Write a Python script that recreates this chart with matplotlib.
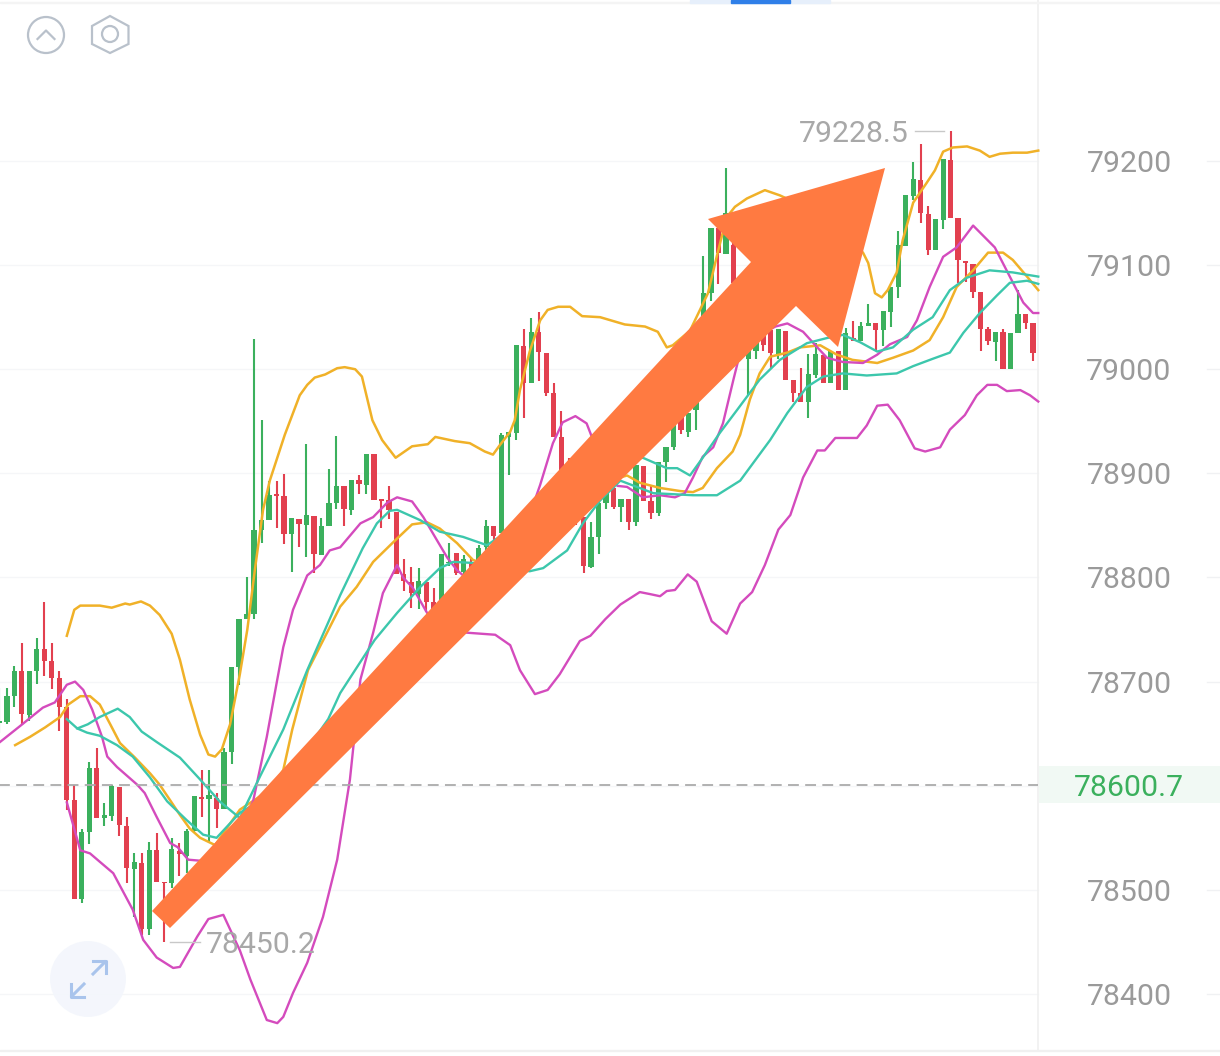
import matplotlib
matplotlib.use('Agg')
import matplotlib.pyplot as plt
from matplotlib.patches import Polygon, Circle, Rectangle

# candles, oldest first
opens = [78660, 78661, 78686, 78710, 78668, 78710, 78731, 78720, 78703, 78676,
         78586, 78491, 78556, 78617, 78569, 78571, 78599, 78561, 78520, 78526,
         78462, 78538, 78508, 78507, 78537, 78533, 78557, 78589, 78587, 78588,
         78578, 78632, 78714, 78760, 78765, 78846, 78855, 78880, 78878, 78842,
         78856, 78850, 78859, 78822, 78849, 78872, 78888, 78865, 78894, 78889,
         78919, 78875, 78874, 78863, 78803, 78796, 78784, 78796, 78776, 78776,
         78814, 78824, 78805, 78815, 78816, 78829, 78849, 78843, 78935, 78939,
         79022, 78987, 79036, 79016, 78977, 78935, 78903, 78874, 78858, 78810,
         78839, 78872, 78886, 78868, 78875, 78853, 78907, 78873, 78862, 78911,
         78925, 78958, 78940, 78961, 78990, 79073, 79136, 79111, 79119, 79083,
         79010, 79018, 79047, 79038, 79015, 79037, 78990, 78977, 78969, 78994,
         79014, 78987, 79018, 78980, 79030, 79027, 79042, 79044, 79038, 79055,
         79079, 79118, 79166, 79182, 79149, 79115, 79143, 79201, 79145, 79104,
         79101, 79074, 79039, 79026, 79036, 79000, 79035, 79053, 79044]
closes = [78662, 78686, 78710, 78669, 78710, 78731, 78720, 78703, 78676, 78586,
          78491, 78556, 78617, 78569, 78572, 78600, 78562, 78521, 78527, 78462,
          78538, 78508, 78507, 78539, 78534, 78557, 78590, 78587, 78591, 78578,
          78632, 78714, 78760, 78765, 78846, 78855, 78879, 78878, 78842, 78857,
          78851, 78860, 78823, 78849, 78872, 78888, 78866, 78894, 78890, 78919,
          78874, 78873, 78865, 78803, 78797, 78785, 78797, 78776, 78764, 78823,
          78815, 78804, 78818, 78803, 78828, 78849, 78840, 78937, 78940, 79023,
          78987, 79036, 79017, 78977, 78935, 78903, 78874, 78858, 78811, 78839,
          78872, 78884, 78868, 78875, 78853, 78908, 78873, 78862, 78911, 78925,
          78947, 78942, 78958, 78990, 79073, 79136, 79112, 79150, 79083, 79047,
          79047, 79047, 79023, 79016, 79039, 78990, 78977, 78969, 78995, 79015,
          78987, 79018, 78980, 79035, 79027, 79042, 79044, 79038, 79056, 79079,
          79119, 79167, 79183, 79150, 79115, 79144, 79202, 79145, 79105, 79102,
          79074, 79039, 79027, 79036, 79000, 79035, 79053, 79044, 79016]
highs = [78694, 78694, 78715, 78737, 78710, 78742, 78776, 78737, 78710, 78683,
         78601, 78558, 78623, 78636, 78583, 78601, 78599, 78570, 78535, 78535,
         78546, 78555, 78508, 78550, 78545, 78558, 78590, 78615, 78615, 78593,
         78636, 78714, 78760, 78800, 79029, 78951, 78893, 78893, 78899, 78857,
         78856, 78928, 78859, 78857, 78904, 78936, 78888, 78894, 78898, 78919,
         78919, 78875, 78888, 78863, 78818, 78810, 78809, 78796, 78790, 78823,
         78833, 78824, 78822, 78820, 78831, 78855, 78849, 78939, 78940, 79023,
         79039, 79049, 79055, 79016, 78987, 78960, 78915, 78880, 78858, 78853,
         78874, 78890, 78890, 78875, 78875, 78908, 78907, 78888, 78911, 78925,
         78947, 78958, 78958, 78995, 79109, 79136, 79136, 79193, 79124, 79090,
         79047, 79055, 79055, 79038, 79039, 79037, 78990, 79001, 79015, 79025,
         79014, 79018, 79018, 79040, 79046, 79045, 79063, 79044, 79056, 79079,
         79133, 79167, 79199, 79216, 79157, 79144, 79202, 79228.5, 79145, 79104,
         79101, 79074, 79041, 79036, 79039, 79035, 79076, 79053, 79044]
lows = [78651, 78659, 78676, 78658, 78662, 78698, 78705, 78693, 78653, 78577,
        78491, 78487, 78544, 78569, 78561, 78566, 78552, 78507, 78474, 78457,
        78457, 78508, 78450.2, 78502, 78513, 78516, 78556, 78570, 78546, 78559,
        78578, 78621, 78697, 78760, 78760, 78833, 78855, 78848, 78832, 78805,
        78829, 78820, 78804, 78822, 78849, 78866, 78849, 78860, 78880, 78880,
        78874, 78848, 78856, 78803, 78787, 78771, 78770, 78767, 78759, 78774,
        78811, 78802, 78802, 78795, 78812, 78826, 78836, 78843, 78898, 78932,
        78953, 78987, 78989, 78974, 78935, 78898, 78865, 78850, 78804, 78809,
        78823, 78866, 78866, 78853, 78846, 78849, 78873, 78856, 78859, 78892,
        78922, 78938, 78935, 78942, 78985, 79066, 79082, 79111, 79076, 79040,
        78975, 79010, 79018, 79001, 79010, 78990, 78969, 78969, 78953, 78992,
        78987, 78987, 78980, 78980, 79027, 79027, 79042, 79018, 79022, 79041,
        79068, 79118, 79163, 79140, 79110, 79115, 79135, 79145, 79083, 79084,
        79068, 79018, 79023, 79008, 79000, 79000, 79035, 79039, 79008]

# upper orange band
band_up_x = [9.0, 10.0, 10.8, 13.4, 15.0, 16.8, 17.4, 18.9, 20.1, 21.4, 23.0, 24.1, 25.4, 26.8, 27.9, 28.8,
             29.7, 30.8, 32.1, 33.1, 34.1, 35.2, 36.1, 37.1, 38.1, 39.1, 40.1, 41.1, 42.1, 43.5, 45.1, 46.1,
             47.5, 48.4, 49.8, 51.1, 52.9, 55.1, 57.2, 58.2, 60.8, 62.8, 64.8, 65.9, 66.8, 68.2, 68.8, 69.5,
             70.8, 72.2, 73.2, 74.6, 76.2, 77.8, 80.2, 83.5, 86.2, 87.9, 89.1, 89.9, 92.2, 94.6, 95.9, 97.1,
             98.2, 99.8, 102.2, 104.2, 106.9, 110.9, 113.6, 115.3, 116.0, 116.9, 117.8, 118.6, 119.8, 120.6,
             122.0, 123.8, 124.9, 126.0, 127.3, 129.2, 130.9, 132.2, 133.6, 135.3, 137.2, 138.7]
band_up = [78744, 78769, 78773, 78773, 78771, 78775, 78774, 78777, 78773, 78764, 78746, 78721, 78683, 78649, 78630, 78628,
           78635, 78659, 78707, 78750, 78807, 78865, 78893, 78915, 78937, 78956, 78975, 78985, 78992, 78995, 79001, 79002,
           79000, 78993, 78951, 78932, 78915, 78926, 78928, 78935, 78931, 78929, 78921, 78918, 78927, 78940, 78951, 78980,
           79017, 79047, 79057, 79060, 79060, 79051, 79050, 79043, 79041, 79036, 79021, 79023, 79037, 79073, 79112, 79146,
           79156, 79164, 79172, 79167, 79158, 79138, 79124, 79112, 79102, 79073, 79069, 79076, 79093, 79124,
           79160, 79179, 79191, 79209, 79213, 79214, 79210, 79204, 79207, 79208, 79208, 79210]

# lower orange average
ma_orange_x = [2.1, 4.1, 6.1, 8.1, 9.2, 10.8, 12.1, 13.4, 14.8, 16.1, 18.1, 20.1, 21.4, 22.8, 24.1, 25.4, 26.8, 28.8,
               32.1, 36.1, 37.9, 39.1, 41.2, 45.5, 47.7, 49.9, 52.6, 55.1, 57.1, 58.8, 61.1, 63.2, 66.8, 72.2, 78.9,
               81.5, 83.8, 85.5, 88.2, 90.9, 92.6, 93.9, 95.8, 97.9, 98.9, 100.2, 101.5, 102.9, 105.2, 106.9, 109.6,
               111.8, 113.9, 117.2, 119.3, 122.0, 124.2, 126.0, 127.8, 130.0, 132.0, 134.0, 135.3, 137.2, 138.7]
ma_orange = [78639, 78647, 78656, 78666, 78678, 78686, 78686, 78678, 78659, 78641, 78627, 78612, 78601, 78586, 78572, 78559, 78550, 78543,
             78577, 78596, 78615, 78654, 78711, 78772, 78791, 78815, 78834, 78851, 78853, 78847, 78833, 78817, 78807, 78826, 78874,
             78893, 78898, 78891, 78886, 78883, 78882, 78886, 78905, 78921, 78937, 78971, 78996, 79012, 79016, 79021, 79023,
             79014, 79009, 79006, 79011, 79018, 79028, 79050, 79079, 79095, 79112, 79112, 79105, 79089, 79076]

# magenta, the one that stays near price
ma_pink_x = [0.08, 2.7, 5.8, 7.4, 9.0, 10.1, 11.2, 12.4, 13.7, 14.4, 15.7, 18.4, 19.4, 21.0, 22.8, 23.8, 25.2, 26.8,
             30.8, 32.8, 33.9, 35.7, 37.1, 37.9, 39.2, 41.1, 42.8, 44.1, 45.5, 48.2, 49.9, 51.8, 53.1, 55.1, 56.6,
             58.4, 59.8, 61.1, 64.2, 68.2, 72.2, 73.9, 75.2, 76.9, 78.4, 79.1, 81.5, 82.5, 83.8, 85.9, 88.2, 90.2,
             91.5, 92.6, 93.9, 95.3, 96.6, 98.0, 98.9, 101.5, 103.6, 105.2, 107.3, 109.2, 110.5, 112.6, 115.3, 117.2,
             118.9, 121.2, 122.5, 124.2, 126.0, 127.8, 130.0, 132.9, 134.9, 136.7, 138.0, 138.7]
ma_pink = [78642, 78657, 78675, 78680, 78697, 78700, 78692, 78673, 78647, 78628, 78618, 78601, 78593, 78570, 78545, 78541, 78529, 78528,
           78538, 78567, 78586, 78647, 78702, 78733, 78769, 78802, 78812, 78826, 78829, 78852, 78858, 78872, 78877, 78873, 78858,
           78836, 78819, 78807, 78788, 78807, 78889, 78929, 78949, 78955, 78948, 78935, 78903, 78888, 78887, 78877, 78879, 78877,
           78881, 78896, 78916, 78925, 78948, 78990, 79016, 79033, 79041, 79044, 79036, 79021, 79011, 79007, 79006, 79014,
           79024, 79031, 79047, 79079, 79108, 79117, 79138, 79117, 79089, 79064, 79054, 79054]

# lower magenta band
band_low_x = [9.0, 10.8, 12.1, 13.4, 15.2, 17.8, 19.2, 21.0, 23.2, 24.1, 26.4, 27.9, 29.9, 32.1, 33.5, 35.7, 37.1, 37.9,
              39.2, 41.1, 43.2, 45.1, 46.8, 48.2, 49.9, 51.2, 53.1, 53.9, 55.2, 57.1, 60.2, 62.4, 66.2, 68.2, 69.5, 71.5,
              73.2, 74.8, 77.5, 78.9, 80.9, 82.9, 85.5, 86.9, 88.2, 89.1, 90.2, 91.9, 93.1, 95.1, 97.1, 98.9, 100.5,
              102.2, 104.0, 105.6, 107.3, 109.2, 110.2, 111.6, 114.5, 115.8, 117.2, 118.6, 120.2, 122.2, 123.6, 125.6,
              126.9, 128.9, 130.5, 131.9, 133.2, 134.5, 136.3, 137.6, 138.7]
band_low = [78584, 78538, 78535, 78527, 78516, 78481, 78452, 78435, 78425, 78426, 78455, 78472, 78476, 78442, 78414, 78375, 78372, 78378,
            78401, 78430, 78474, 78529, 78606, 78702, 78747, 78785, 78812, 78800, 78790, 78766, 78750, 78747, 78745, 78735, 78711, 78688,
            78692, 78707, 78739, 78744, 78760, 78774, 78786, 78784, 78782, 78787, 78788, 78803, 78796, 78758, 78746, 78775, 78786,
            78812, 78846, 78860, 78896, 78922, 78922, 78934, 78934, 78946, 78965, 78966, 78951, 78924, 78921, 78925,
            78942, 78956, 78975, 78985, 78985, 78979, 78980, 78975, 78969]

# teal averages
teal_fast_x = [9.0, 10.4, 11.8, 13.4, 15.8, 17.4, 19.0, 21.0, 24.1, 26.8, 29.4, 32.1, 34.8, 37.9, 41.1, 45.5, 48.5, 50.4,
               52.1, 53.1, 56.2, 58.8, 61.9, 65.1, 68.2, 74.8, 80.2, 85.9, 89.1, 90.5, 92.2, 93.9, 96.2, 98.5, 101.5,
               104.2, 107.8, 110.5, 112.6, 114.9, 117.2, 119.3, 122.0, 124.6, 126.9, 129.2, 132.2, 135.3, 138.7]
teal_fast = [78664, 78655, 78659, 78666, 78674, 78666, 78652, 78642, 78627, 78606, 78585, 78569, 78609, 78654, 78711, 78783, 78828, 78852,
             78864, 78865, 78855, 78844, 78839, 78831, 78846, 78884, 78908, 78915, 78905, 78905, 78898, 78915, 78939, 78961, 78990,
             79009, 79025, 79030, 79033, 79026, 79017, 79021, 79038, 79050, 79076, 79088, 79095, 79093, 79089]
teal_slow_x = [10.4, 11.7, 13.4, 15.7, 17.8, 20.1, 22.4, 25.0, 27.2, 29.0, 32.1, 36.1, 40.1, 43.9, 45.5, 50.1, 53.1, 56.2,
               58.8, 60.6, 63.2, 66.8, 70.8, 72.6, 75.8, 77.9, 80.2, 82.9, 87.3, 92.6, 95.8, 98.9, 102.9, 105.2, 107.8,
               110.0, 112.6, 115.8, 119.8, 122.0, 124.6, 126.9, 128.7, 130.9, 133.2, 134.9, 137.2, 138.7]
teal_slow = [78655, 78651, 78648, 78639, 78628, 78608, 78585, 78567, 78553, 78550, 78574, 78591, 78625, 78664, 78689, 78740, 78766, 78791,
             78809, 78815, 78814, 78809, 78806, 78809, 78826, 78852, 78874, 78893, 78881, 78879, 78879, 78893, 78932, 78958, 78983,
             78993, 78996, 78994, 78996, 79003, 79010, 79016, 79035, 79054, 79071, 79083, 79085, 79082]

price_ticks = [79200, 79100, 79000, 78900, 78800, 78700, 78600, 78500, 78400]
last_price = 78600.7
hi_label = 79228.5
lo_label = 78450.2

GREEN = '#3bb05d'
RED = '#e2404f'
ORANGE = '#f0b128'
PINK = '#d44bbd'
TEAL = '#3cc7ac'
ARROW = '#ff7a41'
W, H = 1220, 1056
STEP = 7.49  # px per candle
PX = 0.9604  # price per px
TEXT_DROP = 3 * PX  # labels sit a little low of their level

plt.rcParams['font.family'] = ['Roboto', 'DejaVu Sans']

fig = plt.figure(figsize=(W / 100, H / 100), dpi=100, facecolor='white')
ax = fig.add_axes([0, 0, 1, 1])
ax.set_xlim(0.08, 0.08 + W / STEP)
ax.set_ylim(79200 - (H - 161) * PX, 79200 + 161 * PX)
ax.axis('off')
right_edge = 0.08 + 1038 / STEP
label_x = 0.08 + 1129 / STEP


def fig_xy(x, y):
    return (x / W, 1 - y / H)


# grid and right hand scale
for p in price_ticks:
    ax.plot([0, right_edge], [p, p], color='#f5f6f8', lw=1, zorder=1)
    ax.plot([0.08 + 1207 / STEP, 0.08 + W / STEP], [p, p], color='#f0f1f3', lw=1, zorder=1)
    if p != 78600:
        ax.text(label_x, p - TEXT_DROP, str(p), color='#9a9a9a', fontsize=21.8, ha='center', va='center')

ax.plot([right_edge, right_edge], [ax.get_ylim()[0] + 5 * PX, ax.get_ylim()[1]], color='#f0f0f0', lw=1.2, zorder=1)
fig.patches.append(Rectangle(fig_xy(0, 3), 1, 1 / H, transform=fig.transFigure, color='#f4f4f4'))
fig.patches.append(Rectangle(fig_xy(0, 1051), 1, 1.2 / H, transform=fig.transFigure, color='#f0f0f0'))

# candles
for i in range(len(opens)):
    c = GREEN if closes[i] >= opens[i] else RED
    ax.vlines(i, lows[i], highs[i], color=c, lw=1.5, zorder=2)
    ax.bar(i, abs(closes[i] - opens[i]), bottom=min(opens[i], closes[i]), width=0.7, color=c, lw=0, zorder=3)

ax.plot(band_up_x, band_up, color=ORANGE, lw=1.8, zorder=4, solid_joinstyle='round')
ax.plot(ma_orange_x, ma_orange, color=ORANGE, lw=1.8, zorder=4, solid_joinstyle='round')
ax.plot(ma_pink_x, ma_pink, color=PINK, lw=1.7, zorder=4, solid_joinstyle='round')
ax.plot(band_low_x, band_low, color=PINK, lw=1.7, zorder=4, solid_joinstyle='round')
ax.plot(teal_fast_x, teal_fast, color=TEAL, lw=1.7, zorder=4, solid_joinstyle='round')
ax.plot(teal_slow_x, teal_slow, color=TEAL, lw=1.7, zorder=4, solid_joinstyle='round')

# last price
ax.plot([0, right_edge], [last_price, last_price], color='#ababab', lw=1.3, dashes=(6, 3.5), zorder=5)
ax.add_patch(Rectangle((right_edge + 0.1, last_price - 18 * PX), 182 / STEP, 37 * PX, color='#f1f9f4', lw=0, zorder=1))
ax.text(label_x, last_price - TEXT_DROP, str(last_price), color=GREEN, fontsize=21.8, ha='center', va='center', zorder=6)

# high / low marks
hi_i = highs.index(hi_label)
lo_i = lows.index(lo_label)
ax.plot([hi_i - 0.9, hi_i - 4.8], [hi_label, hi_label], color='#c8c8c8', lw=1, zorder=5)
ax.text(hi_i - 5.6, hi_label - TEXT_DROP, str(hi_label), color='#a8a8a8', fontsize=21.8, ha='right', va='center', zorder=6)
ax.plot([lo_i + 0.8, lo_i + 4.8], [lo_label, lo_label], color='#c8c8c8', lw=1, zorder=5)
ax.text(lo_i + 5.6, lo_label - TEXT_DROP, str(lo_label), color='#a8a8a8', fontsize=21.8, ha='left', va='center', zorder=6)

# the big arrow drawn over the chart
arrow_px = [(152, 911), (751, 262), (708, 219), (885, 168), (838, 347), (796, 306), (170, 928)]
fig.patches.append(Polygon([fig_xy(x, y) for x, y in arrow_px], closed=True, transform=fig.transFigure,
                           facecolor=ARROW, edgecolor='none', zorder=10))

# top indicator bar
fig.patches.append(Rectangle(fig_xy(690, 2.5), 140 / W, 2.5 / H, transform=fig.transFigure, color='#e6effb'))
fig.patches.append(Rectangle(fig_xy(731, 2.5), 59 / W, 2.5 / H, transform=fig.transFigure, color='#2f7fe8'))

# icons, top left
ICON = '#b9c1cb'
fig_ax = fig.add_axes([0, 0, 1, 1], zorder=20)
fig_ax.set_xlim(0, W)
fig_ax.set_ylim(H, 0)
fig_ax.axis('off')
fig_ax.patch.set_alpha(0)
fig_ax.add_patch(Circle((46, 35), 18, fill=False, ec=ICON, lw=1.6))
fig_ax.plot([37.5, 46, 54.5], [39, 30.5, 39], color=ICON, lw=1.6)
fig_ax.add_patch(Polygon([(110, 16), (128.5, 26), (128.5, 44), (110, 53), (92, 44), (92, 26)], closed=True,
                         fill=False, ec=ICON, lw=1.6))
fig_ax.add_patch(Circle((110, 34), 8, fill=False, ec=ICON, lw=1.6))

# expand button, bottom left
fig_ax.add_patch(Circle((88, 979), 38, color='#f3f6fc', lw=0, alpha=0.9))
EXP = '#a9c4ec'
fig_ax.plot([93, 105], [974, 962], color=EXP, lw=2.2)
fig_ax.plot([93, 106, 106], [961, 961, 973], color=EXP, lw=2.2)
fig_ax.plot([84, 72], [984, 996], color=EXP, lw=2.2)
fig_ax.plot([71, 71, 84], [984, 997, 997], color=EXP, lw=2.2)

fig.savefig('out.png', dpi=100, facecolor='white')
